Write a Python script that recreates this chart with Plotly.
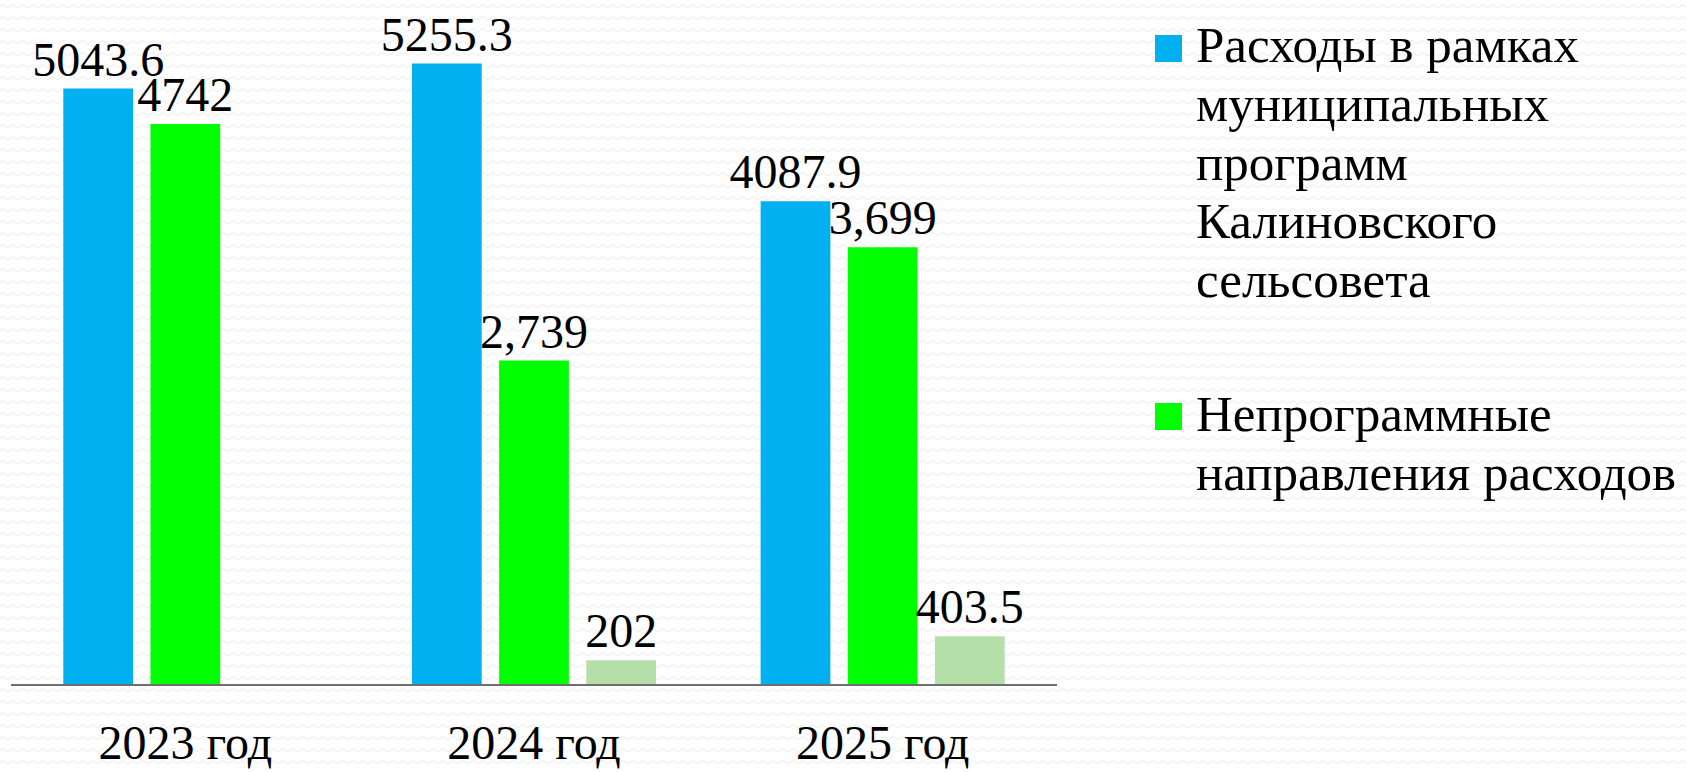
import base64
import plotly.graph_objects as go

categories = ["2023 год", "2024 год", "2025 год"]
prog_values = [5043.6, 5255.3, 4087.9]
prog_labels = ["5043.6", "5255.3", "4087.9"]
nonprog_values = [4742, 2739, 3699]
nonprog_labels = ["4742", "2,739", "3,699"]
third_values = [None, 202, 403.5]
third_labels = ["", "202", "403.5"]
legend_lines = [
    ["Расходы в рамках", "муниципальных", "программ", "Калиновского", "сельсовета"],
    ["Непрограммные", "направления расходов"],
]

W, H = 1687, 772
ML, MR, MT, MB = 11, 630, 11, 88
PW, PH = W - ML - MR, H - MT - MB

FONT = "Liberation Serif"
BLUE = "#00B0F0"
GREEN = "#00FF00"
LIGHT = "#B4DFA8"

fig = go.Figure()
for vals, labels, color in [
    (prog_values, prog_labels, BLUE),
    (nonprog_values, nonprog_labels, GREEN),
    (third_values, third_labels, LIGHT),
]:
    fig.add_trace(go.Bar(
        x=categories, y=vals, text=labels, textposition="outside",
        constraintext="none",
        textfont=dict(family=FONT, size=48, color="#000000"),
        marker=dict(color=color, line=dict(width=0)),
        cliponaxis=False, showlegend=False,
    ))

# background texture
svg = (
    f'<svg xmlns="http://www.w3.org/2000/svg" width="{W}" height="{H}">'
    '<defs><pattern id="p" width="10" height="12" patternUnits="userSpaceOnUse">'
    '<path d="M0,7 Q2.5,3 5,6 T10,6" fill="none" stroke="#eeeeee" stroke-width="1.1"/>'
    '</pattern></defs>'
    '<rect width="100%" height="100%" fill="#ffffff"/>'
    '<rect width="100%" height="100%" fill="url(#p)"/></svg>'
)
src = "data:image/svg+xml;base64," + base64.b64encode(svg.encode()).decode()
fig.add_layout_image(dict(
    source=src, xref="paper", yref="paper",
    x=-ML / PW, y=1 + MT / PH, sizex=W / PW, sizey=H / PH,
    sizing="stretch", layer="below", xanchor="left", yanchor="top",
))

def px_x(p):
    return (p - ML) / PW

def px_y(p):
    return (H - MB - p) / PH

# custom legend
LFS = 51
legend_colors = [BLUE, GREEN]
square_tops = [35, 403]
first_baselines = [62.7, 431.7]
LINE_STEP = 58.65
for lines, color, top, base in zip(legend_lines, legend_colors, square_tops, first_baselines):
    fig.add_shape(type="rect", xref="paper", yref="paper",
                  x0=px_x(1155), x1=px_x(1182), y0=px_y(top), y1=px_y(top + 27),
                  fillcolor=color, line=dict(width=0))
    for i, line in enumerate(lines):
        bl = base + i * LINE_STEP
        fig.add_annotation(
            text=line, xref="paper", yref="paper", x=px_x(1194), y=px_y(bl - 0.3375 * LFS),
            xanchor="left", yanchor="middle", align="left", showarrow=False,
            font=dict(family=FONT, size=LFS, color="#000000"),
        )

fig.update_layout(
    width=W, height=H,
    margin=dict(l=ML, r=MR, t=MT, b=MB, autoexpand=False),
    paper_bgcolor="#ffffff", plot_bgcolor="rgba(0,0,0,0)",
    barmode="group", bargap=0.25, bargroupgap=0.2,
    showlegend=False,
)
fig.update_xaxes(
    automargin=False,
    showline=True, linecolor="#6f6f6f", linewidth=2, showgrid=False,
    ticks="", ticklabelstandoff=15,
    tickfont=dict(family=FONT, size=48, color="#000000"),
)
fig.update_yaxes(automargin=False, range=[0, 5700], visible=False, showgrid=False)

fig.write_html("out.html", config={"displayModeBar": False},
               post_script="document.body.style.margin='0px';")
